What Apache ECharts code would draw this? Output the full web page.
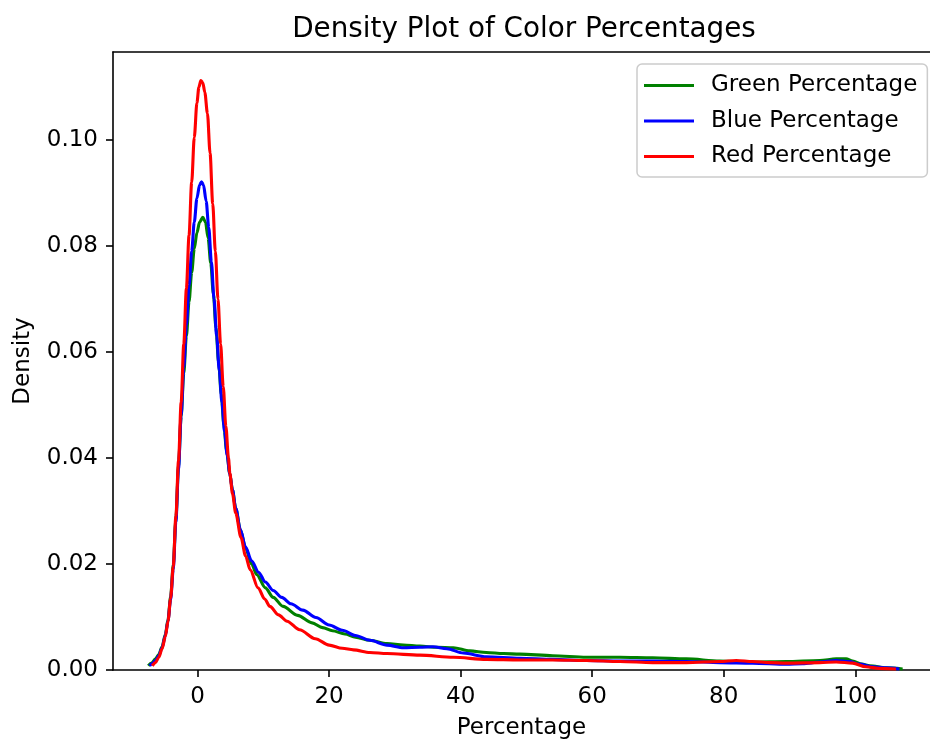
<!DOCTYPE html>
<html>
<head>
<meta charset="utf-8">
<script src="https://cdn.jsdelivr.net/npm/echarts@6/dist/echarts.min.js"></script>
<style>
html,body{margin:0;padding:0;background:#fff;}
#chart{width:930px;height:740px;}
</style>
</head>
<body>
<div id="chart"></div>
<script>
// ---- data ----
const seriesNames = ['Green Percentage', 'Blue Percentage', 'Red Percentage'];
const seriesColors = ['#008000', '#0000ff', '#ff0000'];

const greenX = [-7.5, -7.0, -6.4, -5.9, -5.4, -4.9, -4.5, -4.1, -3.7, -3.3, -2.9, -2.5, -2.1, -1.7, -1.3, -0.9, -0.5, -0.1, 0.3, 0.8, 1.2, 1.6, 2.0, 2.4, 2.8, 3.2, 3.6, 4.0, 4.4, 4.9, 5.3, 5.8, 6.5, 7.3, 8.2, 9.0, 10.3, 11.5, 13.0, 15.2, 17.4, 19.0, 20.5, 22.4, 24.0, 26.2, 28.8, 31.3, 33.8, 36.4, 38.9, 41.4, 43.9, 46.5, 49, 54, 59.1, 64.2, 69.2, 74.3, 79.4, 84.4, 89.5, 94.6, 97.1, 98.6, 99.6, 101.0, 102.2, 104.7, 107.2];
const greenY = [0.0008, 0.0013, 0.0021, 0.0029, 0.0044, 0.0067, 0.0095, 0.0138, 0.0198, 0.0285, 0.0385, 0.0478, 0.0560, 0.0630, 0.0695, 0.0750, 0.0795, 0.0825, 0.0845, 0.0854, 0.0845, 0.0815, 0.0768, 0.0710, 0.0645, 0.0580, 0.0520, 0.0462, 0.0415, 0.0370, 0.0340, 0.0305, 0.0265, 0.0230, 0.0200, 0.0180, 0.0155, 0.0137, 0.0120, 0.0103, 0.0089, 0.0080, 0.0074, 0.0068, 0.0062, 0.0056, 0.0050, 0.0047, 0.0045, 0.0043, 0.0042, 0.0036, 0.0033, 0.0031, 0.0030, 0.0027, 0.0024, 0.0024, 0.0023, 0.0021, 0.0017, 0.0015, 0.0016, 0.0018, 0.0021, 0.0021, 0.0017, 0.0011, 0.0008, 0.0004, 0.0002];

const blueX = [-7.3, -6.9, -6.4, -5.9, -5.4, -4.9, -4.5, -4.1, -3.7, -3.3, -2.9, -2.5, -2.1, -1.7, -1.3, -0.9, -0.5, -0.1, 0.3, 0.6, 0.9, 1.3, 1.7, 2.1, 2.5, 2.9, 3.3, 3.7, 4.1, 4.5, 4.9, 5.3, 5.8, 6.5, 7.3, 8.2, 9.3, 10.3, 11.5, 12.8, 14.2, 16.0, 18.0, 20.0, 22.0, 24.0, 26.2, 28.8, 31.3, 33.8, 35.8, 37.9, 40.4, 43.9, 49, 54, 59.1, 64.2, 69.2, 74.3, 79.4, 84.4, 89.5, 92.0, 94.6, 97.1, 99.1, 100.6, 102.7, 104.7, 106.7];
const blueY = [0.0008, 0.0012, 0.0018, 0.0027, 0.0042, 0.0065, 0.0093, 0.0133, 0.0190, 0.0280, 0.0380, 0.0480, 0.0570, 0.0650, 0.0725, 0.0790, 0.0845, 0.0890, 0.0915, 0.0921, 0.0915, 0.0885, 0.0835, 0.0770, 0.0700, 0.0630, 0.0565, 0.0505, 0.0450, 0.0405, 0.0370, 0.0340, 0.0305, 0.0265, 0.0232, 0.0206, 0.0184, 0.0166, 0.0150, 0.0137, 0.0125, 0.0113, 0.0099, 0.0085, 0.0075, 0.0065, 0.0056, 0.0047, 0.0042, 0.0043, 0.0044, 0.0040, 0.0032, 0.0025, 0.0022, 0.0020, 0.0018, 0.0017, 0.0017, 0.0016, 0.0014, 0.0013, 0.0011, 0.0012, 0.0015, 0.0018, 0.0016, 0.0011, 0.0006, 0.0004, 0.0002];

const redX = [-6.9, -6.4, -5.9, -5.4, -4.9, -4.5, -4.1, -3.7, -3.3, -2.9, -2.5, -2.1, -1.7, -1.3, -0.9, -0.5, -0.1, 0.2, 0.5, 0.8, 1.1, 1.5, 1.9, 2.3, 2.7, 3.1, 3.5, 3.9, 4.3, 4.7, 4.9, 5.3, 5.8, 6.6, 7.3, 8.0, 9.2, 10.2, 11.0, 12.3, 13.6, 15.5, 17.9, 20.0, 22.0, 23.7, 26.2, 28.8, 33.8, 38.9, 43.9, 49, 54, 59.1, 64.2, 69.2, 74.3, 79.4, 81.9, 84.4, 87.0, 89.5, 94.6, 97.1, 99.6, 101.6, 103.6, 106.2];
const redY = [0.0008, 0.0014, 0.0024, 0.0040, 0.0063, 0.0092, 0.0135, 0.0195, 0.0290, 0.0395, 0.0505, 0.0615, 0.0720, 0.0820, 0.0920, 0.1005, 0.1070, 0.1100, 0.1112, 0.1108, 0.1090, 0.1050, 0.0975, 0.0880, 0.0790, 0.0700, 0.0615, 0.0535, 0.0460, 0.0400, 0.0372, 0.0333, 0.0296, 0.0250, 0.0215, 0.0189, 0.0155, 0.0134, 0.0120, 0.0104, 0.0092, 0.0076, 0.0059, 0.0047, 0.0041, 0.0038, 0.0033, 0.0031, 0.0028, 0.0024, 0.0020, 0.0019, 0.0019, 0.0018, 0.0016, 0.0014, 0.0014, 0.0016, 0.0018, 0.0016, 0.0014, 0.0013, 0.0014, 0.0015, 0.0013, 0.0006, 0.0003, 0.0002];

const xTickValues = [0, 20, 40, 60, 80, 100];
const yTickValues = [0, 0.02, 0.04, 0.06, 0.08, 0.10];

// ---- chart ----
const FONT = 'DejaVu Sans';
const FS = 23;
const xs = [greenX, blueX, redX];
const ys = [greenY, blueY, redY];
const X_MIN = -12.86, X_MAX = 111.36;

const chart = echarts.init(document.getElementById('chart'), null, {renderer: 'canvas'});

const series = seriesNames.map((name, i) => ({
  name: name,
  type: 'line',
  xAxisIndex: 0,
  data: xs[i].map((x, k) => [x, ys[i][k]]),
  showSymbol: false,
  symbol: 'none',
  smooth: 0.3,
  smoothMonotone: 'x',
  lineStyle: {color: seriesColors[i], width: 3.1},
  itemStyle: {color: seriesColors[i]},
  emphasis: {disabled: true}
}));

chart.setOption({
  animation: false,
  backgroundColor: '#ffffff',
  title: {
    text: 'Density Plot of Color Percentages',
    left: 519,
    top: 11,
    textAlign: 'center',
    textStyle: {fontFamily: FONT, fontSize: 27.8, fontWeight: 'normal', color: '#000'}
  },
  legend: {
    data: seriesNames,
    orient: 'vertical',
    left: 637,
    top: 64,
    padding: [9, 10, 8, 7],
    itemWidth: 50,
    itemHeight: 3,
    itemGap: 10.5,
    icon: 'rect',
    backgroundColor: 'rgba(255,255,255,0.8)',
    borderColor: '#cccccc',
    borderWidth: 1.5,
    borderRadius: 5,
    textStyle: {fontFamily: FONT, fontSize: FS, color: '#000', lineHeight: 25, padding: [0, 0, 0, 12]}
  },
  grid: {
    left: 113,
    top: 52,
    width: 817,
    height: 618,
    outerBoundsMode: 'none',
    containLabel: false,
    show: false
  },
  xAxis: [{
    type: 'value',
    min: X_MIN,
    max: X_MAX,
    name: 'Percentage',
    nameLocation: 'middle',
    nameGap: 47,
    nameTextStyle: {fontFamily: FONT, fontSize: FS, color: '#000'},
    axisLine: {show: true, onZero: false, lineStyle: {color: '#000', width: 1.6}},
    axisTick: {show: true, inside: false, length: 7, customValues: xTickValues, lineStyle: {color: '#000', width: 1.6}},
    axisLabel: {customValues: xTickValues, margin: 16, fontFamily: FONT, fontSize: FS, color: '#000',
      formatter: v => String(v)},
    splitLine: {show: false}
  }, {
    type: 'value',
    position: 'top',
    min: X_MIN,
    max: X_MAX,
    axisLine: {show: true, onZero: false, lineStyle: {color: '#000', width: 1.6}},
    axisTick: {show: false},
    axisLabel: {show: false},
    splitLine: {show: false}
  }],
  yAxis: {
    type: 'value',
    min: 0,
    max: 0.1166,
    name: 'Density',
    nameLocation: 'middle',
    nameGap: 78,
    nameRotate: 90,
    nameTextStyle: {fontFamily: FONT, fontSize: FS, color: '#000'},
    axisLine: {show: true, onZero: false, lineStyle: {color: '#000', width: 1.6}},
    axisTick: {show: true, inside: false, length: 7, customValues: yTickValues, lineStyle: {color: '#000', width: 1.6}},
    axisLabel: {customValues: yTickValues, margin: 15, fontFamily: FONT, fontSize: FS, color: '#000',
      formatter: v => v.toFixed(2)},
    splitLine: {show: false}
  },
  series: series
});
</script>
</body>
</html>
